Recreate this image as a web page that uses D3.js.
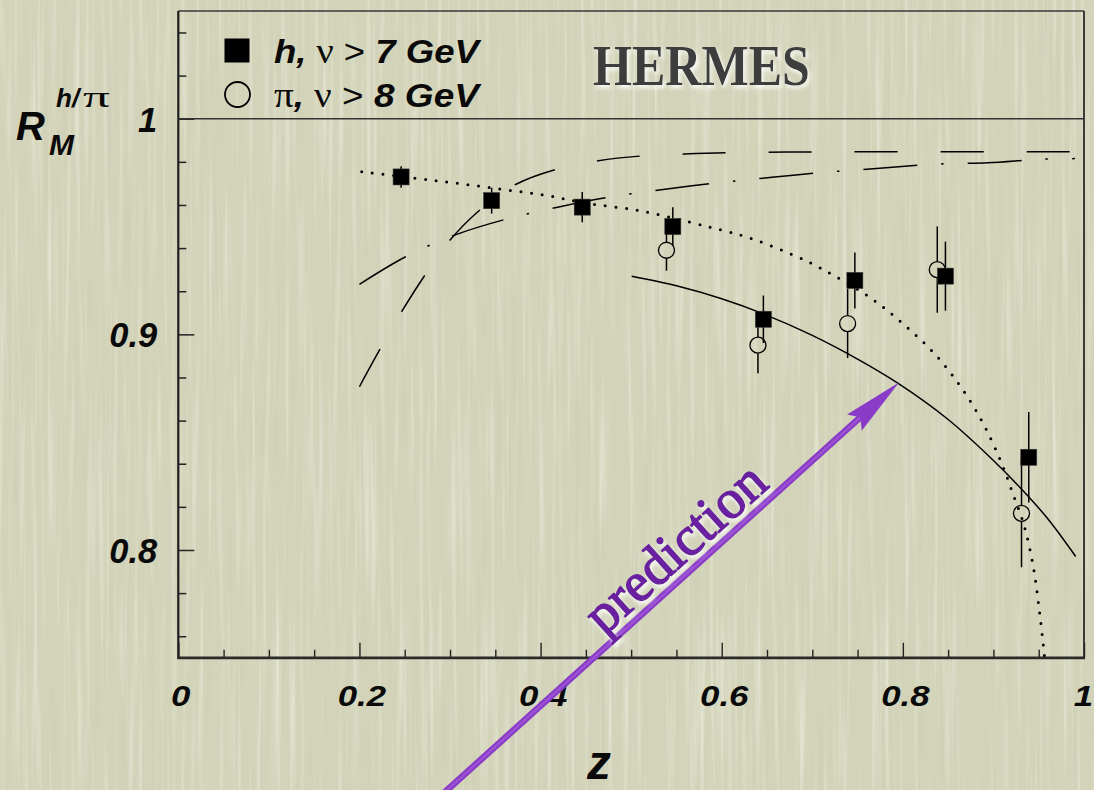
<!DOCTYPE html>
<html><head><meta charset="utf-8">
<script src="https://cdn.jsdelivr.net/npm/d3@7"></script>
<style>
html,body{margin:0;padding:0;background:#d2d3b8;overflow:hidden;}
svg{display:block;}
</style></head><body>
<svg id="c" width="1094" height="790"></svg>
<script>
// ---------- data ----------
const zSquares = [0.246, 0.346, 0.446, 0.546, 0.646, 0.747, 0.847, 0.939];
const rSquares = [0.973, 0.962, 0.959, 0.950, 0.907, 0.925, 0.927, 0.843];
const eSquares = [0.005, 0.006, 0.007, 0.009, 0.011, 0.013, 0.016, 0.021];

const zCircles = [0.539, 0.640, 0.739, 0.838, 0.931];
const rCircles = [0.939, 0.895, 0.905, 0.930, 0.817];
const eCircles = [0.0095, 0.013, 0.016, 0.020, 0.025];

const dottedCurve = [[0.2025,0.9754],[0.262,0.9724],[0.309,0.9700],[0.357,0.9673],[0.404,0.9646],[0.451,0.9608],[0.510,0.9573],[0.567,0.9518],[0.602,0.9481],[0.635,0.9441],[0.691,0.9345],[0.723,0.9275],[0.764,0.9170],[0.8005,0.9048],[0.8355,0.8908],[0.865,0.8750],[0.889,0.8584],[0.909,0.8402],[0.922,0.8255],[0.9337,0.8116],[0.944,0.7923],[0.9506,0.7722],[0.956,0.7521],[0.9575,0.745]];
const solidCurve = [[0.5006,0.9269],[0.55,0.9225],[0.60,0.9165],[0.646,0.9095],[0.70,0.8995],[0.75,0.8885],[0.7957,0.8770],[0.85,0.8605],[0.90,0.8415],[0.9304,0.8285],[0.96,0.8145],[0.9908,0.7970]];
const dashCurve = [[0.2,0.8757],[0.2227,0.8931],[0.2466,0.9105],[0.2724,0.9275],[0.301,0.9442],[0.3339,0.9580],[0.3729,0.9696],[0.417,0.9765],[0.4637,0.9805],[0.5109,0.9827],[0.5584,0.9836],[0.6062,0.9842],[0.70,0.9846],[0.80,0.9847],[0.90,0.9847],[0.99,0.9847]];
const dashDotCurve = [[0.2,0.9232],[0.251,0.9360],[0.3036,0.9458],[0.3626,0.9535],[0.4214,0.9592],[0.4785,0.9638],[0.5374,0.9673],[0.5962,0.9703],[0.6555,0.9728],[0.715,0.9752],[0.7743,0.9770],[0.8337,0.9789],[0.894,0.9796],[0.9525,0.9812],[0.99,0.9815]];

const xMajorTicks = [0, 0.2, 0.4, 0.6, 0.8, 1];
const xTickLabels = ["0", "0.2", "0.4", "0.6", "0.8", "1"];
const xMinorTicks = [0.05,0.1,0.15,0.25,0.3,0.35,0.45,0.5,0.55,0.65,0.7,0.75,0.85,0.9,0.95];
const yMajorTicks = [0.8, 0.9, 1.0];
const yTickLabels = ["0.8", "0.9", "1"];
const yMinorTicks = [0.76,0.78,0.82,0.84,0.86,0.88,0.92,0.94,0.96,0.98,1.02,1.04];

const legendLabels = [["h,", "ν", "7 GeV"], ["π,", "ν", "8 GeV"]];
const arrowTail = [0.2845, 0.684];
const arrowTip = [0.7957, 0.8777];

// ---------- layout ----------
const W = 1094, H = 790;
const L = 178.3, R = 1084, T = 10.9, B = 657.8;
const x = d3.scaleLinear().domain([0, 1]).range([L, R]);
const y = d3.scaleLinear().domain([0.75, 1.05]).range([B, T]);
const SANS = "'Liberation Sans', Arial, Helvetica, sans-serif";
const SERIF = "'Liberation Serif', 'Times New Roman', serif";

const svg = d3.select("#c");
const defs = svg.append("defs");

defs.html(`
<filter id="texLight" x="0" y="0" width="100%" height="100%">
  <feTurbulence type="fractalNoise" baseFrequency="0.21 0.005" numOctaves="2" seed="7" result="n"/>
  <feColorMatrix in="n" type="matrix" values="0 0 0 0 1  0 0 0 0 1  0 0 0 0 0.96  2.2 0 0 0 -1.08"/>
</filter>
<filter id="texDark" x="0" y="0" width="100%" height="100%">
  <feTurbulence type="fractalNoise" baseFrequency="0.16 0.006" numOctaves="2" seed="13" result="n"/>
  <feColorMatrix in="n" type="matrix" values="0 0 0 0 0.55  0 0 0 0 0.55  0 0 0 0 0.45  -2.2 0 0 0 0.95"/>
</filter>
<filter id="glow" x="-10%" y="-10%" width="130%" height="140%">
  <feGaussianBlur in="SourceAlpha" stdDeviation="2.2" result="b"/>
  <feOffset in="b" dx="2" dy="3" result="o"/>
  <feFlood flood-color="#ffffff" flood-opacity="0.95"/>
  <feComposite in2="o" operator="in" result="s"/>
  <feMerge><feMergeNode in="s"/><feMergeNode in="SourceGraphic"/></feMerge>
</filter>
<clipPath id="plotClip"><rect x="${L}" y="${T}" width="${R - L}" height="${B - T}"/></clipPath>
`);

// background
svg.append("rect").attr("width", W).attr("height", H).attr("fill", "#d2d3b8");
svg.append("rect").attr("width", W).attr("height", H).attr("filter", "url(#texLight)").attr("opacity", 0.45);
svg.append("rect").attr("width", W).attr("height", H).attr("filter", "url(#texDark)").attr("opacity", 0.35);

// ---------- axes ----------
const gx = svg.append("g").attr("transform", `translate(0,${B})`);
gx.append("g").call(d3.axisBottom(x).tickValues(xMinorTicks).tickSize(-8).tickFormat(""))
  .call(g => g.select(".domain").remove());
gx.append("g").call(d3.axisBottom(x).tickValues(xMajorTicks).tickSize(-15)
    .tickFormat((d, i) => xTickLabels[i]))
  .call(g => g.select(".domain").remove())
  .call(g => g.selectAll("text")
    .attr("y", 0).attr("dy", 0)
    .attr("transform", (d, i) => `translate(${i === xMajorTicks.length - 1 ? -1 : 2},48.5) scale(1.18,1)`)
    .attr("fill", "#0a0a0a").attr("font-family", SANS).attr("font-size", 29.5)
    .attr("font-weight", "bold").attr("font-style", "italic").attr("text-anchor", "middle"));
gx.selectAll("line").attr("stroke", "#222").attr("stroke-width", 1.4);

const gy = svg.append("g").attr("transform", `translate(${L},0)`);
gy.append("g").call(d3.axisLeft(y).tickValues(yMinorTicks).tickSize(-8).tickFormat(""))
  .call(g => g.select(".domain").remove());
gy.append("g").call(d3.axisLeft(y).tickValues(yMajorTicks).tickSize(-16)
    .tickFormat((d, i) => yTickLabels[i]))
  .call(g => g.select(".domain").remove())
  .call(g => g.selectAll("text")
    .attr("x", -21).attr("y", 12.5).attr("dy", 0)
    .attr("fill", "#0a0a0a").attr("font-family", SANS).attr("font-size", 34.5)
    .attr("font-weight", "bold").attr("font-style", "italic").attr("text-anchor", "end"));
gy.selectAll("line").attr("stroke", "#222").attr("stroke-width", 1.5);

// frame
svg.append("line").attr("x1", L).attr("x2", R).attr("y1", T).attr("y2", T).attr("stroke", "#3a3a3a").attr("stroke-width", 1.5);
svg.append("line").attr("x1", R).attr("x2", R).attr("y1", T).attr("y2", B).attr("stroke", "#2a2a2a").attr("stroke-width", 1.8);
svg.append("line").attr("x1", L).attr("x2", L).attr("y1", T).attr("y2", B + 1).attr("stroke", "#1e1e1e").attr("stroke-width", 2.2);
svg.append("line").attr("x1", L - 1).attr("x2", R + 1).attr("y1", B).attr("y2", B).attr("stroke", "#2a2a2a").attr("stroke-width", 2.8);
// unity line
svg.append("line").attr("x1", x(0)).attr("x2", x(1)).attr("y1", y(1)).attr("y2", y(1)).attr("stroke", "#333").attr("stroke-width", 1.5);

// ---------- curves ----------
const line = d3.line().x(d => x(d[0])).y(d => y(d[1])).curve(d3.curveCatmullRom.alpha(0.5));
const curves = svg.append("g").attr("clip-path", "url(#plotClip)").attr("fill", "none").attr("stroke", "#000");
curves.append("path").attr("d", line(solidCurve)).attr("stroke-width", 1.5);
curves.append("path").attr("d", line(dashCurve)).attr("stroke-width", 1.5).attr("stroke-dasharray", "43 43");
curves.append("path").attr("d", line(dashDotCurve)).attr("stroke-width", 1.5).attr("stroke-dasharray", "54 24 2.5 24");
curves.append("path").attr("d", line(dottedCurve)).attr("stroke-width", 3).attr("stroke-linecap", "round").attr("stroke-dasharray", "0 10.7");

// ---------- data points ----------
const sq = zSquares.map((z, i) => ({z, r: rSquares[i], e: eSquares[i]}));
const ci = zCircles.map((z, i) => ({z, r: rCircles[i], e: eCircles[i]}));
const pts = svg.append("g");
const CR = 8;
pts.selectAll(".ce1").data(ci).join("line")
  .attr("x1", d => x(d.z)).attr("x2", d => x(d.z))
  .attr("y1", d => y(d.r + d.e)).attr("y2", d => y(d.r) - CR)
  .attr("stroke", "#000").attr("stroke-width", 1.5);
pts.selectAll(".ce2").data(ci).join("line")
  .attr("x1", d => x(d.z)).attr("x2", d => x(d.z))
  .attr("y1", d => y(d.r) + CR).attr("y2", d => y(d.r - d.e))
  .attr("stroke", "#000").attr("stroke-width", 1.5);
pts.selectAll(".cm").data(ci).join("circle")
  .attr("cx", d => x(d.z)).attr("cy", d => y(d.r)).attr("r", CR)
  .attr("fill", "none").attr("stroke", "#000").attr("stroke-width", 1.3);
pts.selectAll(".se").data(sq).join("line")
  .attr("x1", d => x(d.z)).attr("x2", d => x(d.z))
  .attr("y1", d => y(d.r + d.e)).attr("y2", d => y(d.r - d.e))
  .attr("stroke", "#000").attr("stroke-width", 1.5);
pts.selectAll(".sm").data(sq).join("rect")
  .attr("x", d => x(d.z) - 8).attr("y", d => y(d.r) - 8).attr("width", 16).attr("height", 16)
  .attr("fill", "#000").attr("stroke", "#333").attr("stroke-width", 0.6);

// ---------- legend ----------
const leg = svg.append("g");
leg.append("rect").attr("x", 224.5).attr("y", 38.5).attr("width", 25).attr("height", 24).attr("fill", "#000");
leg.append("circle").attr("cx", 237.5).attr("cy", 94.5).attr("r", 12.5).attr("fill", "none").attr("stroke", "#000").attr("stroke-width", 1.8);
const legBase = [62.5, 106.5];
legendLabels.forEach((lab, i) => {
  const g = leg.append("g").attr("transform", `translate(274,${legBase[i]})`);
  const t = g.append("text").attr("fill", "#0a0a0a").attr("font-size", 33);
  if (i === 0) {
    t.append("tspan").attr("font-family", SANS).attr("font-weight", "bold").attr("font-style", "italic").text(lab[0]);
  } else {
    t.append("tspan").attr("font-family", SERIF).attr("font-size", 35).text(lab[0].slice(0, 1));
    t.append("tspan").attr("font-family", SANS).attr("font-weight", "bold").attr("font-style", "italic").text(",");
  }
  t.append("tspan").attr("font-family", SERIF).attr("font-size", 35).text(" " + lab[1]);
  t.append("tspan").attr("font-family", SANS).text(" > ");
  t.append("tspan").attr("font-family", SANS).attr("font-weight", "bold").attr("font-style", "italic").text(lab[2]);
  const len = t.node().getComputedTextLength();
  t.attr("transform", `scale(${205 / len},1)`);
});

// HERMES
const hg = svg.append("g").attr("filter", "url(#glow)");
const ht = hg.append("text").attr("font-family", SERIF).attr("font-weight", "bold").attr("font-size", 57)
  .attr("fill", "#3c3c3c").text("HERMES");
{
  const len = ht.node().getComputedTextLength();
  ht.attr("transform", `translate(593,85) scale(${217 / len},1)`);
}

// y-axis title R_M^{h/pi}
const yt = svg.append("g").attr("fill", "#0a0a0a");
yt.append("text").attr("x", 16).attr("y", 140).attr("font-family", SANS).attr("font-weight", "bold")
  .attr("font-style", "italic").attr("font-size", 40).text("R");
yt.append("text").attr("x", 49).attr("y", 155).attr("font-family", SANS).attr("font-weight", "bold")
  .attr("font-style", "italic").attr("font-size", 30).text("M");
yt.append("text").attr("x", 56).attr("y", 107).attr("font-family", SANS).attr("font-weight", "bold")
  .attr("font-style", "italic").attr("font-size", 26).text("h/");
yt.append("text").attr("x", 83).attr("y", 107).attr("font-family", SERIF)
  .attr("font-size", 30).attr("textLength", 27).attr("lengthAdjust", "spacingAndGlyphs").text("π");

// x-axis title
svg.append("text").attr("x", 587).attr("y", 779).attr("font-family", SANS).attr("font-weight", "bold")
  .attr("font-style", "italic").attr("font-size", 48).attr("fill", "#0a0a0a").text("z");

// ---------- prediction arrow ----------
const tip = [x(arrowTip[0]), y(arrowTip[1])];
const tail = [x(arrowTail[0]), y(arrowTail[1])];
const ang = Math.atan2(tip[1] - tail[1], tip[0] - tail[0]);
const ux = Math.cos(ang), uy = Math.sin(ang);
const nx = -uy, ny = ux;
const HL = 60, HW = 11, NOTCH = 52;
const ag = svg.append("g");
const lineEnd = [tip[0] - ux * (NOTCH - 2), tip[1] - uy * (NOTCH - 2)];
ag.append("line").attr("x1", tail[0]).attr("y1", tail[1]).attr("x2", lineEnd[0]).attr("y2", lineEnd[1])
  .attr("stroke", "#8a3cc8").attr("stroke-width", 6.5);
ag.append("line").attr("x1", tail[0]).attr("y1", tail[1]).attr("x2", lineEnd[0]).attr("y2", lineEnd[1])
  .attr("stroke", "#a864dc").attr("stroke-width", 2).attr("opacity", 0.6);
const head = [
  tip,
  [tip[0] - ux * HL + nx * HW, tip[1] - uy * HL + ny * HW],
  [tip[0] - ux * NOTCH, tip[1] - uy * NOTCH],
  [tip[0] - ux * HL - nx * HW, tip[1] - uy * HL - ny * HW]
];
ag.append("path").attr("d", d3.line()(head) + "Z").attr("fill", "#8a3cc8");

// prediction label, placed along the arrow
const sAlong = 389, off = 9;
const p0 = [tip[0] - ux * sAlong - nx * off, tip[1] - uy * sAlong - ny * off];
const pg = svg.append("g").attr("filter", "url(#glow)");
pg.append("text")
  .attr("transform", `translate(${p0[0]},${p0[1]}) rotate(${ang * 180 / Math.PI})`)
  .attr("font-family", SERIF).attr("font-size", 55).attr("fill", "#6a20a0")
  .attr("stroke", "#6a20a0").attr("stroke-width", 1.6).attr("stroke-linejoin", "round")
  .attr("textLength", 224).attr("lengthAdjust", "spacingAndGlyphs")
  .text("prediction");
</script>
</body></html>
